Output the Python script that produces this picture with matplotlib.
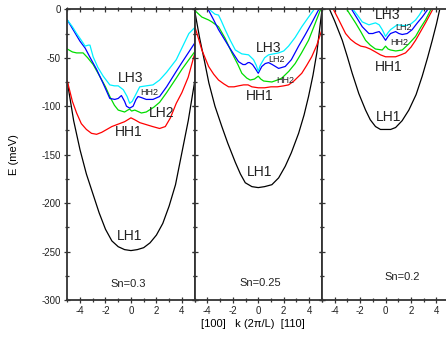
import numpy as np
import matplotlib
matplotlib.use("Agg")
import matplotlib.pyplot as plt
from matplotlib.ticker import MultipleLocator

plt.rcParams['font.family'] = ['Liberation Sans', 'DejaVu Sans']
plt.rcParams['axes.unicode_minus'] = False

# ---------------------------------------------------------------------------
# subband dispersions E(k) in meV, three Sn contents
# ---------------------------------------------------------------------------

# Sn = 0.3
s1_lh1_k = [-5, -4.5, -4, -3.5, -3, -2.5, -2, -1.5, -1, -0.5, 0, 0.5, 1, 1.5, 2, 2.5, 3, 3.5, 4, 4.5, 5]
s1_lh1_e = [-75, -115, -145, -170, -190, -210, -227, -239, -245, -248, -249, -248, -246, -241, -233, -221, -203, -181, -148, -115, -75]
s1_hh1_k = [-5, -4.6, -4.27, -3.9, -3.5, -3.1, -2.7, -2.3, -1.9, -1.5, -1.1, -0.5, 0, 0.3, 0.7, 1.2, 1.7, 2.25, 2.7, 3.1, 3.56, 4, 4.5, 5]
s1_hh1_e = [-74, -95, -107, -118, -124, -128, -129, -127, -124, -121, -119, -116, -112, -114, -117, -119, -121, -123, -121, -112, -97, -86, -70, -46]
s1_lh2_k = [-5, -4.6, -4.27, -3.76, -3.4, -2.97, -2.5, -2.0, -1.66, -1.3, -1.0, -0.5, -0.25, -0.1, 0.05, 0.3, 0.82, 1.2, 1.8, 2.25, 2.8, 3.56, 4.0, 4.55, 5]
s1_lh2_e = [-41, -44, -45, -45, -50, -57, -68, -80, -90, -99, -104, -106, -104, -103, -105, -104, -107, -106, -101, -96, -86, -71, -62, -52, -44]
s1_hh2_k = [-5, -4.5, -4, -3.6, -3.2, -2.7, -2.2, -1.66, -1.27, -1.0, -0.75, -0.5, -0.35, -0.1, 0.17, 0.4, 0.56, 0.8, 1.2, 1.73, 2.25, 2.8, 3.56, 4.0, 4.55, 5]
s1_hh2_e = [-11, -22, -33, -40, -50, -62, -76, -92, -93, -92, -89, -95, -100, -102, -100, -93, -90, -91, -93, -93, -90, -80, -64, -55, -44, -35]
s1_lh3_k = [-5, -4.6, -4.27, -3.9, -3.6, -3.35, -3.22, -2.97, -2.6, -2.18, -1.66, -1.3, -1.0, -0.6, -0.3, -0.1, 0.1, 0.3, 0.69, 1.2, 1.73, 2.25, 2.8, 3.56, 4.0, 4.55, 5]
s1_lh3_e = [-11, -18, -25, -32, -38, -37, -37, -49, -60, -69, -78, -79, -79, -83, -90, -97, -95, -90, -80, -79, -78, -73, -65, -52, -40, -25, -19]

# Sn = 0.25
s2_lh1_k = [-5, -4.6, -4.2, -3.88, -3.4, -2.86, -2.4, -1.8, -1.4, -1.02, -0.5, 0, 0.5, 1.07, 1.6, 2.12, 2.6, 3.17, 3.6, 3.95, 4.3, 4.6, 5]
s2_lh1_e = [-1, -30, -55, -76, -100, -121, -138, -158, -170, -179, -183, -184, -183, -181, -174, -162, -148, -128, -109, -90, -68, -45, -1]
s2_hh1_k = [-5, -4.7, -4.43, -3.9, -3.5, -3.12, -2.7, -2.33, -1.9, -1.55, -1.15, -0.8, -0.5, 0, 0.5, 1.0, 1.5, 2.0, 2.38, 2.8, 3.42, 3.8, 4.2, 4.6, 5]
s2_hh1_e = [-17, -30, -42, -59, -67, -73, -77, -80, -80, -79, -78, -78, -80, -81, -81, -80, -80, -79, -78, -74, -66, -58, -49, -37, -21]
s2_lh2_k = [-5, -4.43, -3.9, -3.64, -3.12, -2.6, -2.07, -1.6, -1.29, -0.9, -0.63, -0.3, 0, 0.2, 0.42, 1.07, 1.5, 1.85, 2.4, 2.9, 3.4, 3.95, 4.4, 4.87]
s2_lh2_e = [-1, -8, -11, -13, -18, -30, -45, -57, -66, -71, -73, -72, -69, -72, -74, -75, -73, -71, -64, -56, -45, -32, -17, -1]
s2_hh2_k = [-3.9, -3.5, -3.12, -2.7, -2.33, -1.9, -1.55, -1.2, -1.02, -0.8, -0.68, -0.45, -0.24, 0, 0.28, 0.55, 0.81, 1.1, 1.6, 2.12, 2.6, 3.17, 3.7, 4.2, 4.72]
s2_hh2_e = [-1, -11, -21, -30, -38, -47, -54, -57, -57, -55, -55, -57, -61, -66, -59, -56, -55, -57, -61, -59, -52, -38, -26, -14, -1]
s2_lh3_k = [-3.77, -3.4, -3.12, -2.9, -2.6, -2.2, -1.8, -1.29, -0.76, -0.37, -0.15, 0, 0.15, 0.28, 0.5, 0.81, 1.2, 1.6, 2.0, 2.38, 2.9, 3.42, 3.9, 4.34]
s2_lh3_e = [-1, -5, -6, -12, -21, -32, -42, -46, -47, -52, -58, -64, -58, -55, -50, -47, -46, -45, -43, -38, -29, -18, -9, -1]

# Sn = 0.2
s3_lh1_k = [-4.4, -4.0, -3.4, -3.0, -2.62, -2.1, -1.57, -1.2, -0.79, -0.4, 0, 0.4, 0.79, 1.3, 1.83, 2.4, 2.88, 3.3, 3.67, 4.0, 4.24]
s3_lh1_e = [0, -12, -32, -49, -66, -87, -104, -114, -121, -124, -124, -124, -122, -115, -104, -88, -69, -50, -32, -15, -1]
s3_hh1_k = [-4.06, -3.67, -3.14, -2.75, -2.36, -1.95, -1.57, -1.2, -0.79, -0.4, 0, 0.4, 0.79, 1.2, 1.57, 2.0, 2.36, 2.75, 3.14, 3.67]
s3_hh1_e = [-1, -11, -25, -31, -35, -38, -39, -41, -44, -47, -49, -49, -49, -47, -45, -39, -32, -23, -14, -1]
s3_lh2_k = [-3.0, -2.36, -1.95, -1.57, -1.2, -0.79, -0.26, 0, 0.2, 0.39, 0.8, 1.31, 1.8, 2.36, 2.75, 3.14, 3.53]
s3_lh2_e = [-1, -14, -23, -32, -37, -41, -42, -38, -41, -42, -43, -42, -36, -28, -19, -11, -1]
s3_hh2_k = [-2.62, -2.2, -1.83, -1.31, -1.0, -0.79, -0.5, -0.25, 0, 0.2, 0.39, 0.79, 1.05, 1.31, 1.7, 2.09, 2.5, 2.88, 3.27]
s3_hh2_e = [-1, -10, -18, -25, -25, -24, -23, -27, -32, -28, -25, -23, -25, -26, -25, -21, -14, -8, -1]
s3_lh3_k = [-2.5, -2.1, -1.83, -1.31, -0.79, -0.5, -0.26, 0, 0.2, 0.39, 0.92, 1.57, 2.0, 2.36, 2.65, 2.88]
s3_lh3_e = [-1, -8, -13, -16, -14, -16, -21, -28, -24, -21, -16, -17, -15, -11, -6, -1]

sn_labels = ["Sn=0.3", "Sn=0.25", "Sn=0.2"]
band_colors = ['black', '#ff0000', '#00dd00', '#0000ff', '#00f0ff']

panels = [
    [(s1_lh1_k, s1_lh1_e), (s1_hh1_k, s1_hh1_e), (s1_lh2_k, s1_lh2_e), (s1_hh2_k, s1_hh2_e), (s1_lh3_k, s1_lh3_e)],
    [(s2_lh1_k, s2_lh1_e), (s2_hh1_k, s2_hh1_e), (s2_lh2_k, s2_lh2_e), (s2_hh2_k, s2_hh2_e), (s2_lh3_k, s2_lh3_e)],
    [(s3_lh1_k, s3_lh1_e), (s3_hh1_k, s3_hh1_e), (s3_lh2_k, s3_lh2_e), (s3_hh2_k, s3_hh2_e), (s3_lh3_k, s3_lh3_e)],
]

# band labels: (text, k, E, fontsize)
band_text = [
    [("LH3", 0.0, -71, 10), ("HH2", 1.4, -86, 6.5), ("LH2", 2.4, -107, 10), ("HH1", -0.2, -127, 10), ("LH1", -0.1, -234, 10)],
    [("LH3", 0.8, -40, 10), ("LH2", 1.45, -52, 6.5), ("HH2", 2.1, -73, 6.5), ("HH1", 0.1, -89, 10), ("LH1", 0.1, -168, 10)],
    [("LH3", 0.15, -6, 10), ("LH2", 1.4, -18.5, 6.5), ("HH2", 1.05, -34, 6.5), ("HH1", 0.25, -60, 10), ("LH1", 0.2, -111, 10)],
]
sn_pos = [(-0.2, -283), (0.2, -282), (1.3, -276)]

fig = plt.figure(figsize=(4.46, 3.43), dpi=100)

left0 = 67.3 / 446
width = 127.3 / 446
bottom = 1 - 300 / 343
height = (300 - 9.3) / 343

for i in range(3):
    ax = fig.add_axes([left0 + i * width, bottom, width, height])
    for (k, e), c in zip(panels[i], band_colors):
        ax.plot(k, e, color=c, lw=0.9)
    for txt, x, y, fs in band_text[i]:
        ax.text(x, y, txt, fontsize=fs, ha='center', va='center', color='#222222')
    ax.text(sn_pos[i][0], sn_pos[i][1], sn_labels[i], fontsize=8, ha='center', va='center', color='#222222')

    ax.set_xlim(-5, 5)
    ax.set_ylim(-300, 0)
    ax.xaxis.set_minor_locator(MultipleLocator(1))
    ax.yaxis.set_major_locator(MultipleLocator(50))
    ax.yaxis.set_minor_locator(MultipleLocator(25))
    ax.set_xticks([-4, -2, 0, 2, 4])
    ax.tick_params(which='both', direction='inout', top=True, right=True,
                   color='#333333', labelsize=7, pad=2, width=0.9, labelcolor='#222222')
    ax.tick_params(which='major', length=5)
    ax.tick_params(which='minor', length=3.5)
    if i > 0:
        ax.tick_params(labelleft=False)
    for s in ax.spines.values():
        s.set_linewidth(1.3)
        s.set_color('#333333')

fig.text(14 / 446, 1 - 155 / 343, "E (meV)", rotation=90, fontsize=8, ha='center', va='center')
fig.text(253 / 446, 1 - 324 / 343, "[100]   k (2\u03c0/L)  [110]", fontsize=8, ha='center', va='center')

fig.savefig("out.png", dpi=100)
